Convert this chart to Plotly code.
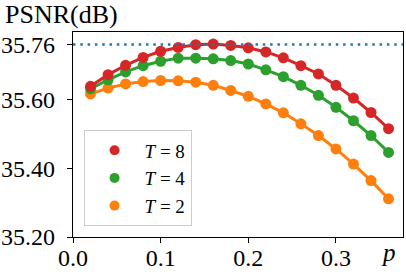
import plotly.graph_objects as go

# ---- data ----
p = [0.02, 0.04, 0.06, 0.08, 0.10, 0.12, 0.14, 0.16, 0.18,
     0.20, 0.22, 0.24, 0.26, 0.28, 0.30, 0.32, 0.34, 0.36]
psnr_T8 = [35.638, 35.672, 35.699, 35.722, 35.740, 35.751, 35.759, 35.761, 35.757,
           35.750, 35.738, 35.721, 35.698, 35.674, 35.641, 35.604, 35.562, 35.515]
psnr_T4 = [35.631, 35.657, 35.680, 35.698, 35.711, 35.720, 35.720, 35.718, 35.713,
           35.703, 35.686, 35.666, 35.641, 35.612, 35.577, 35.538, 35.495, 35.446]
psnr_T2 = [35.616, 35.633, 35.645, 35.652, 35.655, 35.654, 35.650, 35.641, 35.626,
           35.609, 35.587, 35.561, 35.529, 35.495, 35.456, 35.412, 35.364, 35.311]
ref_psnr = 35.76

series_names = ["<i>T</i> = 8", "<i>T</i> = 4", "<i>T</i> = 2"]
series_colors = ["#d62728", "#2ca02c", "#ff7f0e"]

x_ticks = [0.0, 0.1, 0.2, 0.3]
x_tick_labels = ["0.0", "0.1", "0.2", "0.3"]
y_ticks = [35.20, 35.40, 35.60, 35.76]
y_tick_labels = ["35.20", "35.40", "35.60", "35.76"]

FONT = "'Liberation Serif', 'Times New Roman', serif"

fig = go.Figure()

# plotted lines (drawn T=2 first so T=8 sits on top)
series_vals = [psnr_T8, psnr_T4, psnr_T2]
for vals, col in reversed(list(zip(series_vals, series_colors))):
    fig.add_trace(go.Scatter(
        x=p, y=vals, mode="lines+markers",
        line=dict(color=col, width=3),
        marker=dict(color=col, size=11),
        showlegend=False, hoverinfo="skip"))

# legend entries (markers only)
for name, col in zip(series_names, series_colors):
    fig.add_trace(go.Scatter(
        x=[None], y=[None], mode="markers", name=name,
        marker=dict(color=col, size=10)))

# reference dotted line
fig.add_shape(type="line", xref="paper", x0=0, x1=1, yref="y",
              y0=ref_psnr, y1=ref_psnr,
              line=dict(color="#1f77b4", width=2.5, dash="2.5px,4.8px"))

axis_common = dict(
    showline=True, linecolor="black", linewidth=1.3, mirror=True,
    ticks="outside", ticklen=5, tickwidth=1.3, tickcolor="black",
    showgrid=False, zeroline=False, automargin=False,
    tickfont=dict(family=FONT, size=24, color="black"),
)

fig.update_layout(
    width=406, height=276, autosize=False,
    margin=dict(l=73, r=3, t=32, b=39),
    paper_bgcolor="white", plot_bgcolor="white",
    font=dict(family=FONT, color="black"),
    xaxis=dict(range=[0, 0.3765], tickvals=x_ticks, ticktext=x_tick_labels,
               ticklabelstandoff=-6, **axis_common),
    yaxis=dict(range=[35.2, 35.796], tickvals=y_ticks, ticktext=y_tick_labels,
               ticklabelstandoff=7, **axis_common),
    legend=dict(x=0.032, y=0.052, xanchor="left", yanchor="bottom",
                bgcolor="rgba(255,255,255,0.8)", bordercolor="#cccccc",
                borderwidth=1, font=dict(family=FONT, size=19, color="black"),
                traceorder="normal", itemsizing="trace", itemwidth=50),
    annotations=[
        dict(text="PSNR(dB)", xref="paper", yref="paper", x=-0.211, y=1.084,
             xanchor="left", yanchor="middle", showarrow=False,
             font=dict(family=FONT, size=26, color="black")),
        dict(text="<i>p</i>", xref="paper", yref="paper", x=0.955, y=-0.075,
             xanchor="center", yanchor="middle", showarrow=False,
             font=dict(family=FONT, size=25, color="black")),
    ],
)

fig.write_html(
    "out.html",
    config={"displayModeBar": False},
    post_script="document.body.style.margin='0';document.body.style.overflow='hidden';",
)
